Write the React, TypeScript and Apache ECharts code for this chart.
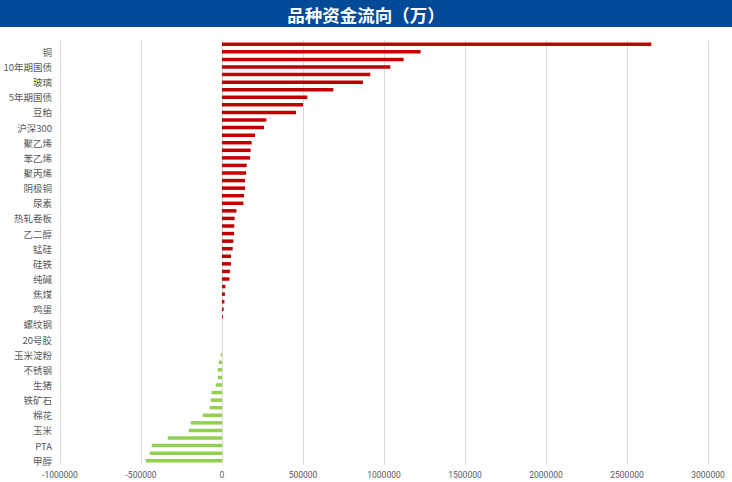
import React, { useEffect, useRef } from "react";
import * as echarts from "echarts";

// categories listed top-to-bottom as they appear in the chart
const categories: string[] = [
  "黄金", "铜", "白银", "10年期国债", "原油", "玻璃", "中证500", "5年期国债",
  "铝", "豆粕", "上证50", "沪深300", "中证1000", "聚乙烯", "棕榈油", "苯乙烯",
  "豆油", "聚丙烯", "锌", "阴极铜", "镍", "尿素", "菜粕", "热轧卷板",
  "白糖", "乙二醇", "焦炭", "锰硅", "沥青", "硅铁", "纸浆", "纯碱",
  "苹果", "焦煤", "锡", "鸡蛋", "红枣", "螺纹钢", "花生", "20号胶",
  "短纤", "玉米淀粉", "菜油", "不锈钢", "PVC", "生猪", "燃料油", "铁矿石",
  "液化气", "棉花", "橡胶", "玉米", "豆一", "PTA", "工业硅", "甲醇",
];

// capital flow (万), same order as categories
const flows: number[] = [
  2650000, 1226000, 1121000, 1039000, 915000, 870000, 687000, 527000,
  500000, 457000, 274000, 259000, 204000, 183000, 177000, 173000,
  152000, 148000, 142000, 142000, 136000, 132000, 89000, 78000,
  76000, 74000, 70000, 66000, 56000, 55000, 49000, 46000,
  21000, 18000, 15000, 10000, 6000, 0, 0, 0,
  0, -8000, -20000, -27000, -26000, -39000, -64000, -70000,
  -76000, -119000, -193000, -205000, -335000, -434000, -446000, -471000,
];

const xTicks: number[] = [-1000000, 3000000, 500000]; // min, max, interval

const TITLE = "品种资金流向（万）";
const RED = "#C00000";
const GREEN = "#92D050";

export default function App() {
  const ref = useRef<HTMLDivElement>(null);
  useEffect(() => {
    document.body.style.margin = "0";
    const chart = echarts.init(ref.current!, undefined, { renderer: "svg" });
    chart.setOption({
      animation: false,
      backgroundColor: "#ffffff",
      graphic: [
        {
          type: "rect",
          shape: { x: 0, y: 0, width: 732, height: 27 },
          style: { fill: "#004A97" },
          z: 0,
        },
        {
          type: "text",
          x: 366,
          y: 14,
          style: {
            text: TITLE,
            fill: "#ffffff",
            font: "bold 17.5px 'Noto Sans CJK SC'",
            textAlign: "center",
            textVerticalAlign: "middle",
          },
          z: 1,
        },
      ],
      grid: { left: 60, right: 24, top: 40.5, bottom: 17.5, containLabel: false },
      xAxis: {
        type: "value",
        min: xTicks[0],
        max: xTicks[1],
        interval: xTicks[2],
        axisLine: { show: false },
        axisTick: { show: false },
        splitLine: { show: true, lineStyle: { color: "#D9D9D9", width: 1 } },
        axisLabel: {
          color: "#595959",
          fontSize: 8.5,
          fontFamily: "Roboto",
          margin: 6,
          formatter: (v: number) => String(v),
        },
      },
      yAxis: {
        type: "category",
        inverse: true,
        data: categories,
        axisLine: { show: false },
        axisTick: { show: false },
        splitLine: { show: false },
        axisLabel: {
          interval: (index: number) => index % 2 === 1,
          color: "#595959",
          fontSize: 9.5,
          fontFamily: "'Noto Sans CJK SC'",
          margin: 8,
        },
      },
      series: [
        {
          type: "bar",
          data: flows,
          barWidth: 3.5,
          itemStyle: {
            color: (p: any) => (p.value >= 0 ? RED : GREEN),
          },
        },
      ],
    });
    return () => chart.dispose();
  }, []);
  return <div ref={ref} style={{ width: 732, height: 482 }} />;
}
